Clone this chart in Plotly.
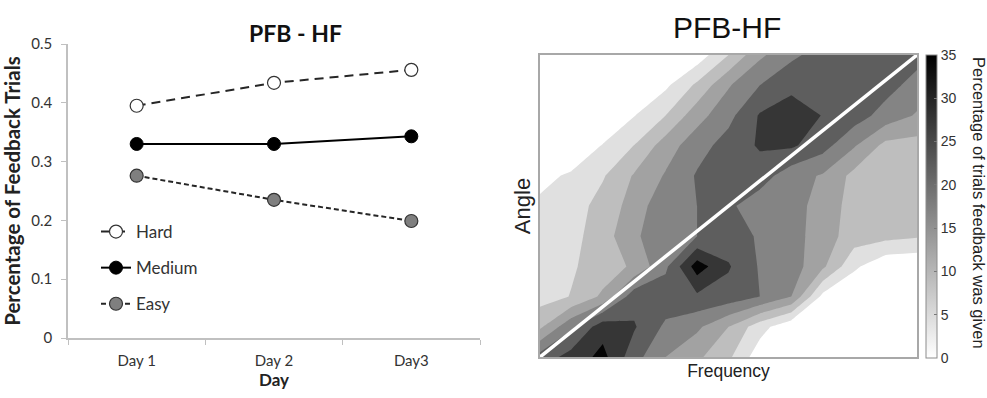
import plotly.graph_objects as go

# ---------------- Left panel data ----------------
days = ["Day 1", "Day 2", "Day3"]
hard = [0.395, 0.434, 0.456]
medium = [0.330, 0.330, 0.343]
easy = [0.276, 0.235, 0.199]

# ---------------- Right panel data ----------------
freq = list(range(13))
angle = list(range(11))
# rows: angle index 0 (bottom) .. 10 (top); columns: frequency index 0..12
z_rows = [
    [27, 32, 36.5, 27, 20, 16, 11, 2, 0, 0, 0, 0, 0],
    [14, 24, 33, 30.5, 24, 21, 15, 7, 1, 0, 0, 0, 0],
    [8, 10.2, 16, 28, 28, 29, 28, 25, 20, 3.5, 0, 0, 0],
    [7, 9.5, 12, 16, 24, 37.5, 30.5, 24.5, 22.5, 16, 6, 1, 0.5],
    [6.5, 8.5, 12.5, 19.5, 22, 25, 27, 24.5, 22, 17.5, 12.5, 11.5, 10.5],
    [6, 7.5, 12, 17, 24, 25, 26, 22, 22, 18, 13, 12.5, 12.5],
    [3.5, 5.8, 9.5, 15.5, 20.5, 25.5, 28.5, 27.5, 22, 19.5, 13.5, 13, 13.5],
    [0, 0.5, 5.3, 10.1, 17.5, 23, 27, 30.6, 30.8, 27, 20.5, 13.5, 13],
    [0, 0, 0, 4.8, 10, 18, 23.5, 30.5, 33, 29.8, 27.5, 23, 19.5],
    [0, 0, 0, 0, 4, 11, 19.5, 25, 28.5, 29.5, 29, 27, 23],
    [0, 0, 0, 0, 0, 2, 10, 19, 24, 27, 28, 28, 27],
]
cbar_ticks = [0, 5, 10, 15, 20, 25, 30, 35]

W, H = 987, 398
def px(x):
    return x / W
def py(y):
    return (H - y) / H

LATO = "Lato, Carlito, Calibri, sans-serif"
NARROW = "Liberation Sans Narrow, Arial Narrow, sans-serif"
ARIAL = "Liberation Sans, Arial, sans-serif"

fig = go.Figure()

fig.add_trace(go.Scatter(
    x=days, y=hard, name="Hard", mode="lines+markers",
    line=dict(color="#262626", width=2, dash="9px,6px"),
    marker=dict(size=13, color="white", line=dict(color="#333333", width=1.2)),
    xaxis="x", yaxis="y", legendgroup="a"))
fig.add_trace(go.Scatter(
    x=days, y=medium, name="Medium", mode="lines+markers",
    line=dict(color="#000000", width=2),
    marker=dict(size=13, color="#000000", line=dict(color="#000000", width=1)),
    xaxis="x", yaxis="y", legendgroup="b"))
fig.add_trace(go.Scatter(
    x=days, y=easy, name="Easy", mode="lines+markers",
    line=dict(color="#262626", width=2, dash="5px,3px"),
    marker=dict(size=13, color="#7f7f7f", line=dict(color="#333333", width=1.2)),
    xaxis="x", yaxis="y", legendgroup="c"))

# contour
gray_steps = [[0, "#ffffff"], [1/7, "#e0e0e0"], [2/7, "#bebebe"], [3/7, "#a2a2a2"],
              [4/7, "#848484"], [5/7, "#5e5e5e"], [6/7, "#363636"], [1, "#050505"]]
fig.add_trace(go.Contour(
    x=freq, y=angle, z=z_rows, xaxis="x2", yaxis="y2",
    colorscale=gray_steps, showscale=False,
    contours=dict(start=5, end=35, size=5, coloring="fill", showlines=False),
    line=dict(width=0, smoothing=0), hoverinfo="skip"))

# diagonal reference line
fig.add_trace(go.Scatter(
    x=[freq[0], freq[-1]], y=[angle[0], angle[-1]], mode="lines",
    line=dict(color="white", width=3.5), xaxis="x2", yaxis="y2",
    showlegend=False, hoverinfo="skip"))

# continuous colorbar
fig.add_trace(go.Scatter(
    x=[None, None], y=[None, None], mode="markers", xaxis="x2", yaxis="y2",
    showlegend=False, hoverinfo="skip",
    marker=dict(color=[cbar_ticks[0], cbar_ticks[-1]], cmin=cbar_ticks[0], cmax=cbar_ticks[-1],
                colorscale=[[0, "#ffffff"], [1, "#000000"]], showscale=True,
                colorbar=dict(
                    x=px(926), xanchor="left", xref="paper",
                    y=py(206.5), yanchor="middle", len=303 / H, lenmode="fraction",
                    thickness=11, xpad=0, ypad=0,
                    outlinewidth=1, outlinecolor="#8c8c8c",
                    tickvals=cbar_ticks, ticks="inside", ticklen=3, tickcolor="#777777",
                    tickfont=dict(family=NARROW, size=14, color="#333333")))))

fig.update_layout(
    width=W, height=H, margin=dict(l=0, r=0, t=0, b=0, autoexpand=False),
    paper_bgcolor="white", plot_bgcolor="white",
    xaxis=dict(domain=[px(68), px(480)], type="category", range=[-0.5, 2.5],
               automargin=False,
               showline=True, linecolor="#c0c0c0", linewidth=1.5, showgrid=False,
               ticks="outside", tickson="boundaries", ticklen=5, tickcolor="#c0c0c0",
               ticklabelstandoff=8,
               tickfont=dict(family=LATO, size=15, color="#333333"),
               title=dict(text="<b>Day</b>", font=dict(family=LATO, size=17, color="#222222"), standoff=5),
               anchor="y"),
    yaxis=dict(domain=[py(338), py(44)], range=[0, 0.5], dtick=0.1, automargin=False,
               showline=True, linecolor="#c0c0c0", linewidth=1.5, showgrid=False, zeroline=False,
               ticks="outside", ticklen=5, tickcolor="#c0c0c0", ticklabelstandoff=6,
               tickfont=dict(family=LATO, size=15, color="#333333"),
               title=dict(text="<b>Percentage of Feedback Trials</b>",
                          font=dict(family=LATO, size=20.5, color="#222222"), standoff=5),
               anchor="x"),
    xaxis2=dict(domain=[px(540), px(917)], range=[freq[0], freq[-1]], automargin=False,
                showticklabels=False, ticks="", showgrid=False, zeroline=False,
                showline=True, mirror=True, linecolor="#a8a8a8", linewidth=1.5,
                title=dict(text="Frequency", font=dict(family=NARROW, size=17.5, color="#222222"), standoff=7),
                anchor="y2"),
    yaxis2=dict(domain=[py(357), py(55)], range=[angle[0], angle[-1]], automargin=False,
                showticklabels=False, ticks="", showgrid=False, zeroline=False,
                showline=True, mirror=True, linecolor="#a8a8a8", linewidth=1.5,
                title=dict(text="Angle", font=dict(family=ARIAL, size=22, color="#222222"), standoff=2),
                anchor="x2"),
    legend=dict(x=px(96), y=py(214), xanchor="left", yanchor="top",
                bgcolor="rgba(0,0,0,0)", tracegroupgap=11,
                font=dict(family=LATO, size=17, color="#333333")),
    annotations=[
        dict(text="<b>PFB - HF</b>", x=px(295), y=py(33), xref="paper", yref="paper",
             showarrow=False, xanchor="center", yanchor="middle",
             font=dict(family=LATO, size=23, color="#111111")),
        dict(text="PFB-HF", x=px(727), y=py(27), xref="paper", yref="paper",
             showarrow=False, xanchor="center", yanchor="middle",
             font=dict(family=NARROW, size=30, color="#111111")),
        dict(text="Percentage of trials feedback was given", x=px(979), y=py(203),
             xref="paper", yref="paper", showarrow=False, textangle=90,
             xanchor="center", yanchor="middle",
             font=dict(family=ARIAL, size=16.5, color="#222222")),
    ],
)

fig.write_html("out.html")
